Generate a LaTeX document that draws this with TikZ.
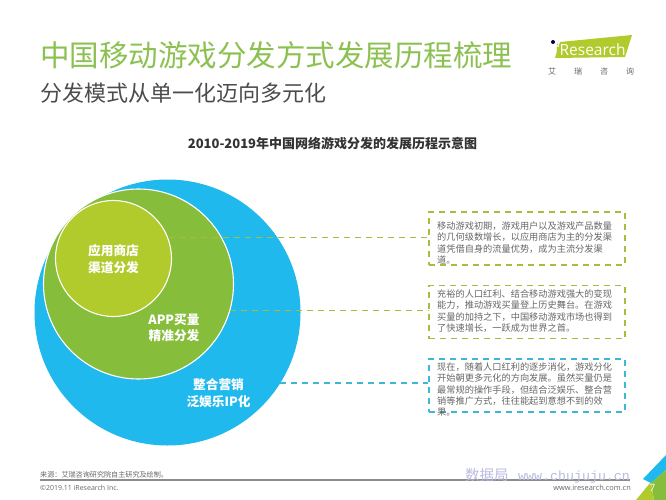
\documentclass[tikz,border=0pt]{standalone}
\usepackage{fontspec}
\setmainfont{Noto Sans CJK SC}
\setsansfont{Open Sans}
\newfontfamily\latn{Open Sans}
\newfontfamily\wmark{Liberation Mono}
\definecolor{titlegreen}{HTML}{8CC152}
\definecolor{appgreen}{HTML}{B0CB2B}
\definecolor{midgreen}{HTML}{86BD3B}
\definecolor{outerblue}{HTML}{1FB9EE}
\definecolor{dashgreen}{HTML}{A6BE3F}
\definecolor{dashblue}{HTML}{3DB8D2}
\definecolor{bodygrey}{HTML}{666666}
\definecolor{markblue}{HTML}{B9BBE2}
\tikzset{
  ring/.style={circle, draw=white, line width=1.1pt, inner sep=0pt},
  ringtext/.style={text=white, font=\fontsize{12.7}{16.5}\selectfont\bfseries, align=center},
  notebox/.style={rectangle, line width=1.2pt, dash pattern=on 6pt off 5pt, minimum width=196pt, minimum height=53pt, inner sep=0pt},
  notetext/.style={text=bodygrey, font=\fontsize{9.2}{11.3}\selectfont, align=left, anchor=north west, inner sep=0pt},
  leader/.style={line width=1.3pt, dash pattern=on 6pt off 5pt}
}
\begin{document}
\begin{tikzpicture}[x=1pt, y=-1pt]
  \useasboundingbox (0,0) rectangle (666,500);
  % headings
  \node[text=titlegreen, font=\fontsize{29.5}{30}\selectfont, anchor=west, inner sep=0pt] (maintitle) at (40,55) {中国移动游戏分发方式发展历程梳理};
  \node[text=black!70, font=\fontsize{22}{24}\selectfont, anchor=west, inner sep=0pt] (subtitle) at (40,93) {分发模式从单一化迈向多元化};
  \node[text=black!80, font=\fontsize{13}{14}\selectfont\bfseries, inner sep=0pt] (charttitle) at (332.5,144) {2010-2019年中国网络游戏分发的发展历程示意图};
  % logo
  \fill[appgreen] (560,42)--(632,35)--(625,57)--(555,58)--cycle;
  \node[text=white, font=\latn\fontsize{15.5}{15.5}\selectfont, anchor=west, inner sep=0pt] (logo) at (555.5,50) {\textcolor{appgreen}{i}Research};
  \fill[black!70!blue] (553,42) circle (2pt);
  \node[text=black!60, font=\fontsize{8}{8}\selectfont, inner sep=0pt] (logocn) at (591,71) {艾\hspace{18pt}瑞\hspace{18pt}咨\hspace{18pt}询};
  % circles
  \node[circle, fill=outerblue, minimum size=266pt, inner sep=0pt] (outer) at (167.5,312.5) {};
  \node[ring, fill=midgreen, minimum size=190pt] (middle) at (138.5,284) {};
  \node[ring, fill=appgreen, minimum size=116pt] (appstore) at (113.5,258.5) {};
  \node[ringtext] (appstoretext) at (113.5,259) {应用商店\\渠道分发};
  \node[ringtext] (middletext) at (174,328) {APP买量\\精准分发};
  \node[ringtext] (outertext) at (218.5,393) {整合营销\\泛娱乐IP化};
  % note boxes
  \node[notebox, draw=dashgreen] (notea) at (527,238.5) {};
  \node[notebox, draw=dashgreen] (noteb) at (527,312) {};
  \node[notebox, draw=dashblue] (notec) at (527,385.5) {};
  \node[notetext] (notetexta) at (437,221.5) {移动游戏初期，游戏用户以及游戏产品数量\\的几何级数增长，以应用商店为主的分发渠\\道凭借自身的流量优势，成为主流分发渠\\道。};
  \node[notetext] (notetextb) at (437,289.5) {充裕的人口红利、结合移动游戏强大的变现\\能力，推动游戏买量登上历史舞台。在游戏\\买量的加持之下，中国移动游戏市场也得到\\了快速增长，一跃成为世界之首。};
  \node[notetext] (notetextc) at (437,362.5) {现在，随着人口红利的逐步消化，游戏分化\\开始朝更多元化的方向发展。虽然买量仍是\\最常规的操作手段，但结合泛娱乐、整合营\\销等推广方式，往往能起到意想不到的效\\果。};
  % leaders
  \draw[leader, draw=dashgreen] (appstore.21) -- (appstore.21 -| notea.west);
  \draw[leader, draw=dashgreen] (middle.-16) -- (middle.-16 -| noteb.west);
  \draw[leader, draw=dashblue] (outer.-32) -- (outer.-32 -| notec.west);
  % footer
  \coordinate (ruleleft) at (40,480);
  \coordinate (ruleright) at (630,480);
  \draw[black!45, line width=1.3pt] (ruleleft) -- (ruleright);
  \node[text=black!60, font=\fontsize{7.1}{8}\selectfont, anchor=west, inner sep=0pt] (source) at (40,474.5) {来源：艾瑞咨询研究院自主研究及绘制。};
  \node[text=black!60, font=\latn\fontsize{7}{8}\selectfont, anchor=west, inner sep=0pt] (copyright) at (40,488) {©2019.11 iResearch Inc.};
  \node[text=black!60, font=\latn\fontsize{7.4}{8}\selectfont, anchor=east, inner sep=0pt] (website) at (631,488) {www.iresearch.com.cn};
  \node[text=markblue, font=\fontsize{14.5}{15}\selectfont, anchor=west, inner sep=0pt] (markcn) at (465,475) {数据局};
  \node[text=markblue, font=\wmark\fontsize{13.3}{14}\selectfont, anchor=west, inner sep=0pt] (marken) at (518,477) {www.chujuju.cn};
  \fill[outerblue] (666,455)--(666,470)--(651,483)--(643,479)--cycle;
  \fill[midgreen] (666,470)--(666,500)--(654,500)--(651,483)--cycle;
  \fill[appgreen] (636,500)--(650,483)--(651,483)--(654,500)--cycle;
  \node[text=white, font=\latn\fontsize{10}{10}\selectfont, inner sep=0pt] (pagenum) at (652.5,488) {7};
\end{tikzpicture}
\end{document}
